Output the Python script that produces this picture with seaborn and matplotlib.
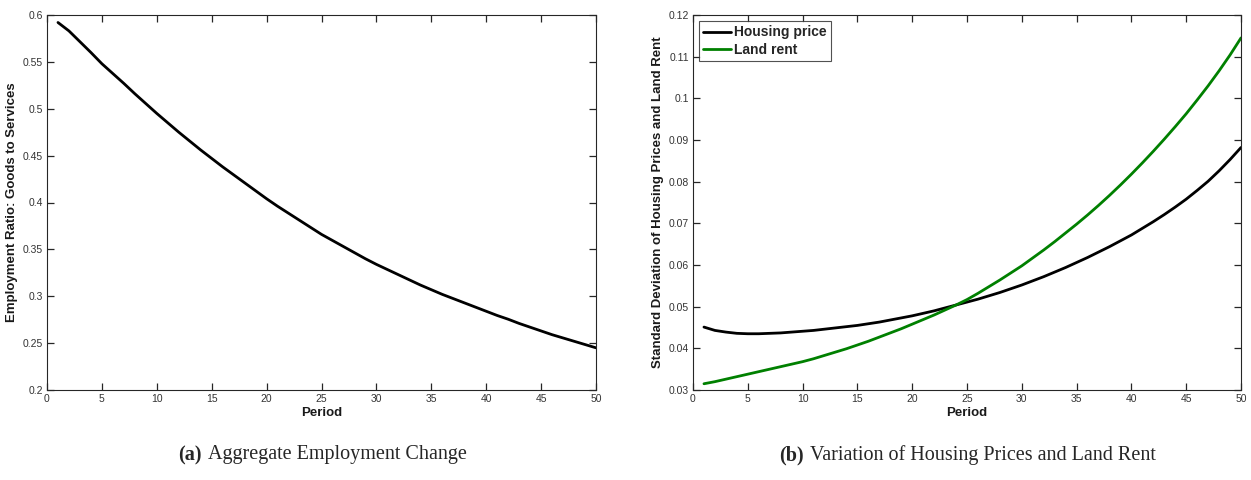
import numpy as np
import pandas as pd
import matplotlib
matplotlib.use("Agg")
import matplotlib.pyplot as plt
import seaborn as sns

periods = list(range(1, 51))

employment_ratio = [
    0.592, 0.583, 0.5715, 0.560, 0.548, 0.5375, 0.527, 0.516, 0.5055, 0.495,
    0.485, 0.475, 0.4655, 0.456, 0.447, 0.438, 0.4295, 0.421, 0.4125, 0.404,
    0.396, 0.3885, 0.381, 0.3735, 0.366, 0.3595, 0.353, 0.3465, 0.340, 0.334,
    0.3285, 0.323, 0.3175, 0.312, 0.307, 0.302, 0.2975, 0.293, 0.2885, 0.284,
    0.2795, 0.2755, 0.271, 0.267, 0.263, 0.259, 0.2555, 0.252, 0.2485, 0.245,
]

housing_price_sd = [
    0.0451, 0.0443, 0.0439, 0.0436, 0.0435, 0.0435, 0.0436, 0.0437, 0.0439, 0.0441,
    0.0443, 0.0446, 0.0449, 0.0452, 0.0455, 0.0459, 0.0463, 0.0468, 0.0473, 0.0478,
    0.0484, 0.0490, 0.0497, 0.0504, 0.0511, 0.0518, 0.0526, 0.0534, 0.0543, 0.0552,
    0.0562, 0.0572, 0.0583, 0.0594, 0.0606, 0.0618, 0.0631, 0.0644, 0.0658, 0.0672,
    0.0688, 0.0704, 0.0721, 0.0739, 0.0758, 0.0779, 0.0801, 0.0826, 0.0853, 0.0882,
]

land_rent_sd = [
    0.0315, 0.0320, 0.0326, 0.0332, 0.0338, 0.0344, 0.0350, 0.0356, 0.0362, 0.0368,
    0.0375, 0.0383, 0.0391, 0.0399, 0.0408, 0.0417, 0.0427, 0.0437, 0.0447, 0.0458,
    0.0469, 0.0480, 0.0492, 0.0504, 0.0517, 0.0532, 0.0548, 0.0564, 0.0581, 0.0598,
    0.0617, 0.0636, 0.0656, 0.0677, 0.0698, 0.0720, 0.0743, 0.0767, 0.0792, 0.0818,
    0.0845, 0.0873, 0.0902, 0.0932, 0.0963, 0.0996, 0.1030, 0.1066, 0.1104, 0.1145,
]

x_ticks = [0, 5, 10, 15, 20, 25, 30, 35, 40, 45, 50]
left_yticks = [0.2, 0.25, 0.3, 0.35, 0.4, 0.45, 0.5, 0.55, 0.6]
left_yticklabels = ["0.2", "0.25", "0.3", "0.35", "0.4", "0.45", "0.5", "0.55", "0.6"]
right_yticks = [0.03, 0.04, 0.05, 0.06, 0.07, 0.08, 0.09, 0.1, 0.11, 0.12]
right_yticklabels = ["0.03", "0.04", "0.05", "0.06", "0.07", "0.08", "0.09", "0.1", "0.11", "0.12"]
series_names = ["Housing price", "Land rent"]
series_colors = ["#000000", "#008000"]

sns.set_theme(style="white", rc={
    "xtick.bottom": True, "xtick.top": True,
    "ytick.left": True, "ytick.right": True,
    "xtick.direction": "in", "ytick.direction": "in",
})
plt.rcParams['font.family'] = ['Liberation Sans', 'DejaVu Sans']

fig = plt.figure(figsize=(12.51, 4.8), dpi=100)
ax1 = fig.add_axes([47/1251, 90/480, 549/1251, 375/480])
ax2 = fig.add_axes([693/1251, 90/480, 548/1251, 375/480])

df1 = pd.DataFrame({"Period": periods, "Ratio": employment_ratio})
sns.lineplot(data=df1, x="Period", y="Ratio", ax=ax1, color="black", linewidth=2)

df2 = pd.DataFrame({
    "Period": periods * 2,
    "SD": housing_price_sd + land_rent_sd,
    "Series": [series_names[0]] * 50 + [series_names[1]] * 50,
})
sns.lineplot(data=df2, x="Period", y="SD", hue="Series", hue_order=series_names,
             palette=series_colors, ax=ax2, linewidth=2)

axis_color = "#262626"
for ax, yt, ytl, ylim, ylabel in [
    (ax1, left_yticks, left_yticklabels, (0.2, 0.6), "Employment Ratio: Goods to Services"),
    (ax2, right_yticks, right_yticklabels, (0.03, 0.12), "Standard Deviation of Housing Prices and Land Rent"),
]:
    ax.set_xlim(0, 50)
    ax.set_ylim(*ylim)
    ax.set_xticks(x_ticks)
    ax.set_xticklabels([str(t) for t in x_ticks])
    ax.set_yticks(yt)
    ax.set_yticklabels(ytl)
    ax.tick_params(which="major", direction="in", length=5, width=0.9,
                   top=True, right=True, bottom=True, left=True,
                   labelsize=7.5, color=axis_color, labelcolor="#333333", pad=3)
    for s in ax.spines.values():
        s.set_visible(True)
        s.set_color(axis_color)
        s.set_linewidth(0.8)
    ax.set_xlabel("Period", fontsize=9.5, fontweight="bold", color="#1a1a1a", labelpad=2)
    ax.set_ylabel(ylabel, fontsize=9.5, fontweight="bold", color="#1a1a1a", labelpad=3)

leg = ax2.legend(loc="upper left", fontsize=10, frameon=True, fancybox=False,
                 edgecolor=axis_color, handlelength=2.0, handletextpad=0.2,
                 borderpad=0.3, labelspacing=0.25, borderaxespad=0.45)
for t in leg.get_texts():
    t.set_fontweight("bold")
leg.get_frame().set_linewidth(0.8)

serif = ['Liberation Serif', 'DejaVu Serif']

def caption(xc, bold, rest):
    t1 = fig.text(0, 1 - 455/480, bold, fontsize=14.5, fontweight="bold", family=serif, va="center")
    t2 = fig.text(0, 1 - 455/480, "\u00a0" + rest, fontsize=14.5, family=serif, va="center")
    fig.canvas.draw()
    r = fig.canvas.get_renderer()
    w1 = t1.get_window_extent(r).width
    w2 = t2.get_window_extent(r).width
    total = w1 + w2
    x0 = xc - total / 2
    t1.set_x(x0 / 1251)
    t2.set_x((x0 + w1 + 1) / 1251)

caption(322, "(a)", "Aggregate Employment Change")
caption(967, "(b)", "Variation of Housing Prices and Land Rent")

fig.savefig("out.png", dpi=100)
